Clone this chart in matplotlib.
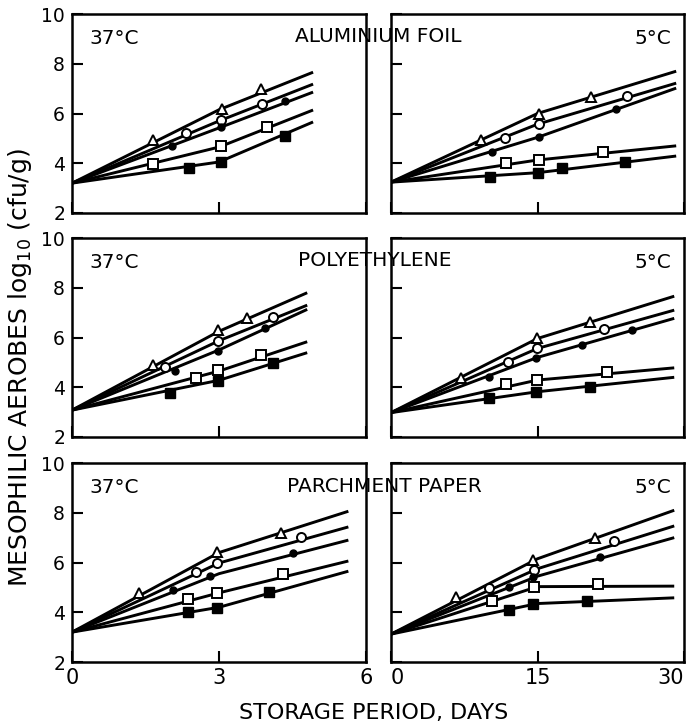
import matplotlib
matplotlib.use("Agg")
import matplotlib.pyplot as plt

# ---------------- data ----------------
series_keys = ["tri", "ocirc", "fcirc", "osq", "fsq"]

panel_titles = ["ALUMINIUM FOIL", "POLYETHYLENE", "PARCHMENT PAPER"]
temps = ["37°C", "5°C"]

# fitted-line node x positions (days)
line_x_37 = {"AL": [0, 3, 4.92], "PE": [0, 3, 4.8], "PP": [0, 3, 5.64]}
line_x_5 = {"AL": [0, 15, 29.2], "PE": [0, 15, 29.0], "PP": [0, 15, 29.0]}

# fitted-line node values (log10 cfu/g)
lines_AL37 = {"tri": [3.2, 6.15, 7.66], "ocirc": [3.2, 5.7, 7.18], "fcirc": [3.2, 5.42, 6.86],
              "osq": [3.2, 4.65, 6.14], "fsq": [3.2, 4.05, 5.66]}
lines_AL5 = {"tri": [3.24, 6.0, 7.7], "ocirc": [3.24, 5.57, 7.22], "fcirc": [3.24, 5.04, 7.02],
             "osq": [3.24, 4.13, 4.7], "fsq": [3.24, 3.62, 4.29]}
lines_PE37 = {"tri": [3.08, 6.25, 7.8], "ocirc": [3.08, 5.87, 7.3], "fcirc": [3.08, 5.5, 7.13],
              "osq": [3.08, 4.65, 5.83], "fsq": [3.08, 4.28, 5.39]}
lines_PE5 = {"tri": [2.98, 5.96, 7.66], "ocirc": [2.98, 5.56, 7.1], "fcirc": [2.98, 5.2, 6.77],
             "osq": [2.98, 4.29, 4.78], "fsq": [2.98, 3.82, 4.4]}
lines_PP37 = {"tri": [3.2, 6.4, 8.06], "ocirc": [3.2, 5.98, 7.43], "fcirc": [3.2, 5.55, 6.9],
              "osq": [3.2, 4.78, 6.06], "fsq": [3.2, 4.2, 5.65]}
lines_PP5 = {"tri": [3.12, 6.15, 8.1], "ocirc": [3.12, 5.75, 7.47], "fcirc": [3.12, 5.45, 7.0],
             "osq": [3.12, 5.03, 5.05], "fsq": [3.12, 4.35, 4.58]}

# observed points (days, log10 cfu/g)
pts_AL37 = {"tri": ([1.65, 3.06, 3.86], [4.93, 6.2, 6.97]),
            "ocirc": ([2.33, 3.04, 3.88], [5.2, 5.73, 6.38]),
            "fcirc": ([2.04, 3.04, 4.35], [4.7, 5.45, 6.5]),
            "osq": ([1.65, 3.04, 3.98], [3.97, 4.7, 5.45]),
            "fsq": ([2.39, 3.04, 4.35], [3.8, 4.05, 5.1])}
pts_AL5 = {"tri": ([9.17, 15.2, 20.5], [4.93, 6.0, 6.66]),
           "ocirc": ([11.7, 15.2, 24.2], [5.0, 5.57, 6.7]),
           "fcirc": ([10.3, 15.2, 23.0], [4.45, 5.04, 6.2]),
           "osq": ([11.75, 15.2, 21.7], [4.0, 4.13, 4.45]),
           "fsq": ([10.1, 15.0, 17.5, 24.0], [3.45, 3.6, 3.8, 4.05])}
pts_PE37 = {"tri": ([1.65, 2.98, 3.58], [4.89, 6.3, 6.79]),
            "ocirc": ([1.9, 2.98, 4.1], [4.82, 5.87, 6.83]),
            "fcirc": ([2.1, 2.98, 3.94], [4.66, 5.47, 6.37]),
            "osq": ([2.54, 2.98, 3.86], [4.36, 4.69, 5.29]),
            "fsq": ([2.01, 2.98, 4.1], [3.75, 4.25, 4.98])}
pts_PE5 = {"tri": ([7.18, 14.9, 20.4], [4.36, 5.96, 6.63]),
           "ocirc": ([12.0, 14.9, 21.8], [5.02, 5.56, 6.34]),
           "fcirc": ([10.0, 14.8, 19.6, 24.7], [4.42, 5.16, 5.7, 6.32]),
           "osq": ([11.75, 14.9, 22.1], [4.13, 4.29, 4.62]),
           "fsq": ([10.0, 14.8, 20.4], [3.55, 3.82, 4.02])}
pts_PP37 = {"tri": ([1.37, 2.95, 4.26], [4.76, 6.43, 7.17]),
            "ocirc": ([2.54, 2.95, 4.67], [5.63, 5.96, 7.03]),
            "fcirc": ([2.07, 2.82, 4.5], [4.89, 5.47, 6.39]),
            "osq": ([2.37, 2.95, 4.31], [4.52, 4.78, 5.53]),
            "fsq": ([2.37, 2.95, 4.03], [4.0, 4.19, 4.8])}
pts_PP5 = {"tri": ([6.7, 14.5, 20.9], [4.62, 6.12, 6.97]),
           "ocirc": ([10.0, 14.6, 22.8], [4.96, 5.69, 6.87]),
           "fcirc": ([12.1, 14.5, 21.4], [5.03, 5.43, 6.23]),
           "osq": ([10.35, 14.6, 21.2], [4.46, 5.03, 5.13]),
           "fsq": ([12.1, 14.5, 20.1], [4.09, 4.33, 4.46])}

xticks_37 = [0, 3, 6]
xticks_5 = [0, 15, 30]
yticks = [2, 4, 6, 8, 10]

# ---------------- styling ----------------
styles = {
    "tri": dict(marker="^", ms=7, mfc="white", mec="black", mew=1.4),
    "ocirc": dict(marker="o", ms=6.5, mfc="white", mec="black", mew=1.4),
    "fcirc": dict(marker="o", ms=5, mfc="black", mec="black", mew=1),
    "osq": dict(marker="s", ms=7, mfc="white", mec="black", mew=1.4),
    "fsq": dict(marker="s", ms=7, mfc="black", mec="black", mew=1),
}

W, H = 689, 724
fig = plt.figure(figsize=(W / 100, H / 100), dpi=100)

def frac_box(x0, x1, ytop, ybot):
    return [x0 / W, 1 - ybot / H, (x1 - x0) / W, (ybot - ytop) / H]

rows_px = [(14, 213), (238, 437), (463, 662)]
cols_px = [(72, 366), (391, 684)]

panels = [
    (pts_AL37, lines_AL37, line_x_37["AL"], pts_AL5, lines_AL5, line_x_5["AL"]),
    (pts_PE37, lines_PE37, line_x_37["PE"], pts_PE5, lines_PE5, line_x_5["PE"]),
    (pts_PP37, lines_PP37, line_x_37["PP"], pts_PP5, lines_PP5, line_x_5["PP"]),
]

title_center_px = [378, 375, 384]

for r, (ytop, ybot) in enumerate(rows_px):
    p37, l37, lx37, p5, l5, lx5 = panels[r]
    for c, (x0, x1) in enumerate(cols_px):
        ax = fig.add_axes(frac_box(x0, x1, ytop, ybot))
        pts, lns, lx = (p37, l37, lx37) if c == 0 else (p5, l5, lx5)
        for k in series_keys:
            ax.plot(lx, lns[k], color="black", lw=2.1, zorder=2, solid_capstyle="butt")
            ax.plot(pts[k][0], pts[k][1], ls="none", zorder=3, **styles[k])
        ax.set_ylim(2, 10)
        if c == 0:
            ax.set_xlim(0, 6)
            ax.set_xticks(xticks_37)
        else:
            ax.set_xlim(0, 30)
            ax.set_xticks(xticks_5)
        ax.set_yticks(yticks)
        ax.tick_params(direction="in", length=8, width=1.5, pad=5)
        ax.tick_params(axis="x", labelsize=15, pad=4)
        ax.tick_params(axis="y", labelsize=13.5)
        if c == 1:
            ax.set_yticklabels([])
        if r < 2:
            ax.set_xticklabels([])
        elif c == 1:
            labs = ax.get_xticklabels()
            labs[-1].set_ha("right")
            labs[0].set_ha("left")
        for s in ax.spines.values():
            s.set_linewidth(1.8)
        if c == 0:
            ax.text(0.06, 0.875, temps[0], transform=ax.transAxes, fontsize=14.5,
                    ha="left", va="center")
        else:
            ax.text(0.955, 0.875, temps[1], transform=ax.transAxes, fontsize=14.5,
                    ha="right", va="center")
    yc = ytop + 23
    fig.text(title_center_px[r] / W, 1 - yc / H, panel_titles[r], fontsize=14.5,
             ha="center", va="center", zorder=10)

fig.text(20 / W, 1 - 368 / H, r"MESOPHILIC AEROBES log$_{10}$ (cfu/g)", rotation=90,
         fontsize=18, ha="center", va="center")
fig.text(374 / W, 1 - 713 / H, "STORAGE PERIOD, DAYS", fontsize=16,
         ha="center", va="center")

fig.savefig("out.png", dpi=100)
